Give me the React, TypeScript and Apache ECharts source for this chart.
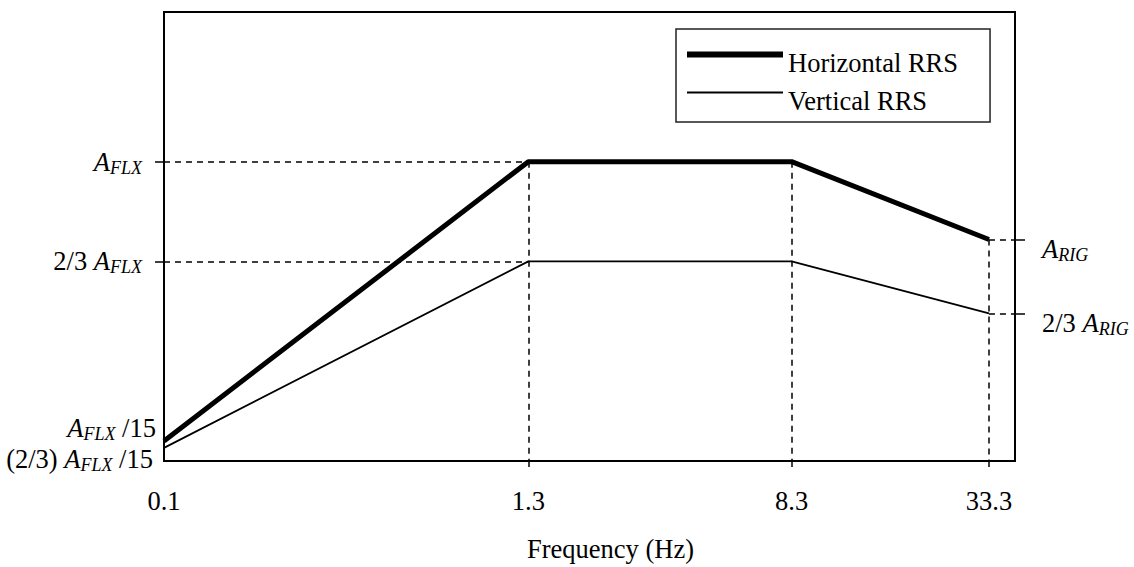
import React, { useEffect, useRef } from "react";
import * as echarts from "echarts";

const SERIF = "'Liberation Serif', 'Times New Roman', serif";

// Data (y in units of A_FLX)
const frequencies = [0.1, 1.3, 8.3, 33.3];
const horizontalRRS = [0.067, 1, 1, 0.74];
const verticalRRS = [0.044, 0.667, 0.667, 0.493];
const xTickLabels = ["0.1", "1.3", "8.3", "33.3"];
const yLeftTicks = [1, 0.667];
const yLeftLabels = ["{i|A}{s|FLX}", "{n|2/3 }{i|A}{s|FLX}"];
const yRightTicks = [0.74, 0.493];

const FS = 26.5;
const rich = {
  n: { fontFamily: SERIF, fontSize: FS, color: "#000" },
  i: { fontFamily: SERIF, fontSize: FS, fontStyle: "italic", color: "#000", lineHeight: 30 },
  s: { fontFamily: SERIF, fontSize: 18, fontStyle: "italic", color: "#000", verticalAlign: "bottom", lineHeight: 17 },
};

const dash = { color: "#000", width: 1.5, type: [6, 5] as any };

export default function App() {
  const ref = useRef<HTMLDivElement>(null);
  useEffect(() => {
    if (!ref.current) return;
    const chart = echarts.init(ref.current, null, { renderer: "svg" });
    const xMax = 40;
    const yMin = 0;
    const hData = frequencies.map((f, i) => {
      const item: any = { value: [f, horizontalRRS[i]] };
      if (i === 0) {
        item.label = {
          show: true, position: "left", distance: 8, offset: [0, -13],
          formatter: "{i|A}{s|FLX}{n| /15}", rich,
        };
      }
      if (i === frequencies.length - 1) {
        item.label = {
          show: true, position: "right", distance: 53, offset: [0, 10],
          formatter: "{i|A}{s|RIG}", rich,
        };
      }
      return item;
    });
    const vData = frequencies.map((f, i) => {
      const item: any = { value: [f, verticalRRS[i]] };
      if (i === 0) {
        item.label = {
          show: true, position: "left", distance: 11, offset: [0, 11],
          formatter: "{n|(2/3) }{i|A}{s|FLX}{n| /15}", rich,
        };
      }
      if (i === frequencies.length - 1) {
        item.label = {
          show: true, position: "right", distance: 53, offset: [0, 10],
          formatter: "{n|2/3 }{i|A}{s|RIG}", rich,
        };
      }
      return item;
    });
    const last = frequencies.length - 1;
    chart.setOption({
      animation: false,
      backgroundColor: "#fff",
      textStyle: { fontFamily: SERIF },
      grid: {
        left: 164, right: 119, top: 12, bottom: 99,
        show: true, borderColor: "#000", borderWidth: 2, backgroundColor: "transparent",
      },
      legend: {
        orient: "vertical",
        left: 676, top: 29,
        padding: [20, 32, 8, 8],
        itemGap: 11,
        itemWidth: 96,
        itemHeight: 10,
        borderColor: "#222",
        borderWidth: 1.5,
        formatter: "{t|{name}}",
        textStyle: {
          fontFamily: SERIF, fontSize: FS, color: "#000",
          rich: { t: { fontFamily: SERIF, fontSize: FS, color: "#000", padding: [16, 0, 0, 0] } },
        },
        data: [
          { name: "Horizontal RRS", lineStyle: { width: 6, color: "#000" }, itemStyle: { opacity: 0 } },
          { name: "Vertical RRS", lineStyle: { width: 2, color: "#000" }, itemStyle: { opacity: 0 } },
        ],
      },
      xAxis: {
        type: "log",
        logBase: 10,
        min: frequencies[0],
        max: xMax,
        name: "Frequency (Hz)",
        nameLocation: "middle",
        nameGap: 74,
        nameTextStyle: { fontFamily: SERIF, fontSize: FS, color: "#000", padding: [0, 0, 0, 42] },
        axisLine: { show: true, lineStyle: { color: "#000", width: 2 } },
        axisTick: { show: true, length: 6, lineStyle: { color: "#000", width: 1.5 }, customValues: frequencies.slice(1) },
        axisLabel: {
          show: true, margin: 26, fontFamily: SERIF, fontSize: FS, color: "#000",
          customValues: frequencies,
          formatter: (v: number) => {
            let best = 0;
            frequencies.forEach((f, i) => { if (Math.abs(f - v) < Math.abs(frequencies[best] - v)) best = i; });
            return xTickLabels[best];
          },
        },
        splitLine: { show: false },
        minorTick: { show: false },
      },
      yAxis: [
        {
          type: "value", min: yMin, max: 1.5,
          axisLine: { show: true, lineStyle: { color: "#000", width: 2 } },
          axisTick: { show: true, length: 9, lineStyle: { color: "#000", width: 1.5 }, customValues: yLeftTicks },
          axisLabel: {
            show: true, margin: 22, rich,
            customValues: yLeftTicks,
            formatter: (v: number) => {
              let best = 0;
              yLeftTicks.forEach((t, i) => { if (Math.abs(t - v) < Math.abs(yLeftTicks[best] - v)) best = i; });
              return yLeftLabels[best];
            },
          },
          splitLine: { show: false },
        },
        {
          type: "value", min: yMin, max: 1.5, position: "right",
          axisLine: { show: true, lineStyle: { color: "#000", width: 2 } },
          axisTick: { show: true, length: 10, lineStyle: { color: "#000", width: 1.5 }, customValues: yRightTicks },
          axisLabel: { show: false },
          splitLine: { show: false },
        },
      ],
      series: [
        {
          name: "Horizontal RRS",
          type: "line",
          data: hData,
          symbol: "circle",
          symbolSize: 0.01,
          showSymbol: true,
          clip: false,
          lineStyle: { color: "#000", width: 5 },
          itemStyle: { color: "#000" },
          markLine: {
            silent: true,
            symbol: ["none", "none"],
            label: { show: false },
            lineStyle: dash,
            data: [
              [{ coord: [frequencies[0], horizontalRRS[1]] }, { coord: [frequencies[1], horizontalRRS[1]] }],
              [{ coord: [frequencies[1], horizontalRRS[1]] }, { coord: [frequencies[1], yMin] }],
              [{ coord: [frequencies[2], horizontalRRS[2]] }, { coord: [frequencies[2], yMin] }],
              [{ coord: [frequencies[last], horizontalRRS[last]] }, { coord: [frequencies[last], yMin] }],
              [{ coord: [frequencies[last], horizontalRRS[last]] }, { coord: [xMax, horizontalRRS[last]] }],
            ],
          },
        },
        {
          name: "Vertical RRS",
          type: "line",
          data: vData,
          symbol: "circle",
          symbolSize: 0.01,
          showSymbol: true,
          clip: false,
          lineStyle: { color: "#000", width: 1.8 },
          itemStyle: { color: "#000" },
          markLine: {
            silent: true,
            symbol: ["none", "none"],
            label: { show: false },
            lineStyle: dash,
            data: [
              [{ coord: [frequencies[0], verticalRRS[1]] }, { coord: [frequencies[1], verticalRRS[1]] }],
              [{ coord: [frequencies[last], verticalRRS[last]] }, { coord: [xMax, verticalRRS[last]] }],
            ],
          },
        },
      ],
    });
    return () => chart.dispose();
  }, []);
  return <div ref={ref} style={{ position: "fixed", left: 0, top: 0, width: 1134, height: 567 }} />;
}
